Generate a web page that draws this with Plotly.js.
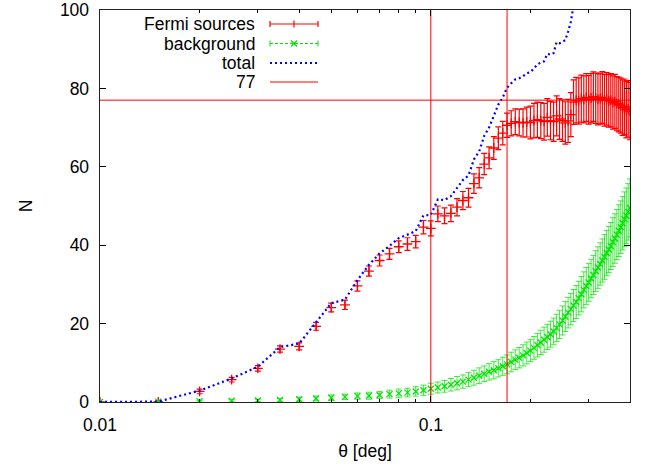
<!DOCTYPE html>
<html>
<head>
<meta charset="utf-8">
<script src="https://cdn.plot.ly/plotly-3.0.1.min.js"></script>
<style>
  html, body { margin: 0; padding: 0; background: #ffffff; }
  #plot { width: 653px; height: 466px; }
</style>
</head>
<body>
<div id="plot"></div>
<script>
// Angular distance from the source position, in degrees
const theta = [
  0.01, 0.015, 0.02, 0.025, 0.03, 0.035, 0.04, 0.045, 0.05, 0.055,
  0.06, 0.065, 0.07, 0.075, 0.08, 0.085, 0.09, 0.095, 0.1, 0.105,
  0.11, 0.115, 0.12, 0.125, 0.13, 0.135, 0.14, 0.145, 0.15, 0.155,
  0.16, 0.165, 0.17, 0.175, 0.18, 0.185, 0.19, 0.195, 0.2, 0.205,
  0.21, 0.215, 0.22, 0.225, 0.23, 0.235, 0.24, 0.245, 0.25, 0.255,
  0.26, 0.265, 0.27, 0.275, 0.28, 0.285, 0.29, 0.295, 0.3, 0.305,
  0.31, 0.315, 0.32, 0.325, 0.33, 0.335, 0.34, 0.345, 0.35, 0.355,
  0.36, 0.365, 0.37, 0.375, 0.38, 0.385, 0.39, 0.395, 0.4
];

// Cumulative counts of Fermi sources and their uncertainties
const fermiN = [
  0, 0, 2.7, 5.7, 8.6, 13.5, 14.2, 19.3, 24.1, 24.8,
  29.6, 33.4, 36.1, 37.8, 39.6, 40.3, 40.9, 44.6, 44.3, 48.0,
  47.5, 48.1, 49.7, 51.4, 52.1, 55.7, 57.2, 60.7, 62.3, 64.8,
  67.3, 68.6, 70.6, 71.1, 71.5, 71.3, 71.2, 71.4, 71.3, 71.8,
  72.0, 71.8, 71.5, 72.6, 71.8, 71.5, 73.0, 72.2, 71.8, 71.2,
  71.7, 73.3, 76.5, 77.0, 76.8, 77.4, 77.2, 77.7, 77.1, 77.5,
  77.9, 77.5, 77.2, 77.4, 77.7, 77.0, 77.3, 76.8, 77.0, 76.4,
  76.7, 76.1, 75.9, 75.6, 75.1, 75.3, 74.6, 74.8, 74.2
];
const fermiErr = [
  0, 0.3, 0.6, 0.6, 0.7, 0.8, 0.9, 1.0, 1.1, 1.2,
  1.3, 1.3, 1.4, 1.4, 1.5, 1.6, 1.6, 1.7, 1.9, 2.0,
  2.0, 2.1, 2.2, 2.3, 2.4, 2.5, 2.6, 2.7, 2.8, 2.9,
  2.9, 3.0, 3.1, 3.2, 3.3, 3.4, 3.6, 3.8, 4.2, 4.4,
  4.5, 4.6, 4.7, 4.8, 4.9, 5.0, 5.1, 5.2, 5.3, 5.4,
  5.5, 5.6, 5.7, 5.8, 5.9, 6.0, 6.0, 6.1, 6.2, 6.3,
  6.3, 6.4, 6.5, 6.5, 6.6, 6.6, 6.7, 6.7, 6.8, 6.8,
  6.9, 6.9, 7.0, 7.0, 7.1, 7.1, 7.2, 7.2, 7.3
];

// Expected background counts and their uncertainties
const backgroundN = [
  0, 0.1, 0.2, 0.3, 0.4, 0.5, 0.7, 0.9, 1.1, 1.3,
  1.5, 1.6, 1.8, 2.0, 2.2, 2.4, 2.7, 3.0, 3.4, 3.7,
  4.0, 4.4, 4.8, 5.2, 5.7, 6.2, 6.7, 7.2, 7.7, 8.1,
  8.6, 9.1, 9.6, 10.2, 10.8, 11.3, 11.9, 12.5, 13.1, 13.8,
  14.5, 15.2, 15.9, 16.6, 17.3, 18.0, 18.9, 19.8, 20.8, 21.8,
  22.8, 23.7, 24.6, 25.5, 26.5, 27.5, 28.6, 29.6, 30.5, 31.5,
  32.4, 33.4, 34.3, 35.2, 36.1, 37.0, 38.0, 38.9, 39.8, 40.8,
  41.7, 42.7, 43.7, 44.6, 45.6, 46.6, 47.5, 48.5, 49.5
];
const backgroundErr = [
  0, 0.1, 0.2, 0.3, 0.3, 0.4, 0.5, 0.6, 0.7, 0.7,
  0.8, 0.9, 0.9, 1.0, 1.1, 1.1, 1.2, 1.3, 1.4, 1.4,
  1.5, 1.6, 1.7, 1.7, 1.8, 1.9, 2.0, 2.0, 2.1, 2.2,
  2.2, 2.3, 2.4, 2.5, 2.5, 2.6, 2.7, 2.8, 2.8, 2.9,
  3.0, 3.1, 3.2, 3.2, 3.3, 3.4, 3.5, 3.6, 3.7, 3.8,
  3.9, 4.0, 4.1, 4.2, 4.3, 4.5, 4.6, 4.7, 4.8, 4.9,
  5.0, 5.2, 5.3, 5.4, 5.5, 5.7, 5.8, 5.9, 6.0, 6.2,
  6.3, 6.4, 6.6, 6.7, 6.8, 7.0, 7.1, 7.2, 7.4
];

// Total counts (sources plus background)
const totalN = [
  0, 0.1, 2.9, 6.0, 9.0, 14.0, 14.9, 20.2, 25.2, 26.1,
  31.1, 35.0, 37.9, 39.8, 41.8, 42.7, 43.6, 47.6, 47.7, 51.7,
  51.5, 52.5, 54.5, 56.6, 57.8, 61.9, 63.9, 67.9, 70.0, 72.9,
  75.9, 77.7, 80.2, 81.3, 82.3, 82.6, 83.1, 83.9, 84.1, 85.1,
  86.1, 86.6, 86.9, 88.8, 88.6, 89.0, 91.8, 91.5, 92.0, 92.3,
  94.5, 97.0, 101.1, 102.5, 103.3, 104.9, 105.8, 107.3, 107.6, 109.0,
  110.3, 110.9, 111.5, 112.6, 113.8, 114.0, 115.3, 115.7, 116.8, 117.2,
  118.4, 118.8, 119.6, 120.2, 120.7, 121.9, 122.1, 123.3, 123.7
];

// Reference level and the two angular cuts
const plateauN = 77;
const thetaCuts = [0.1, 0.17];
const thetaRange = [0.01, 0.4];
const nRange = [0, 100];

// Axis ticks
const xTickVals = [0.01, 0.1];
const xTickText = ['0.01', '0.1'];
const xMinorVals = [0.02, 0.03, 0.04, 0.05, 0.06, 0.07, 0.08, 0.09, 0.2, 0.3, 0.4];
const yTickVals = [0, 20, 40, 60, 80, 100];

// Legend labels
const legendLabels = ['Fermi sources', 'background', 'total', '77'];

const RED = '#ff0000';
const GREEN = '#00e600';
const BLUE = '#0000ff';
const FONT = 'Liberation Sans, Arial, Helvetica, sans-serif';
const FS = 17.5;

const traces = [
  {
    x: theta, y: fermiN, type: 'scatter', mode: 'markers',
    marker: { symbol: 'cross-thin', size: 7, color: RED, line: { color: RED, width: 1.3 } },
    error_y: { type: 'data', array: fermiErr, visible: true, color: RED, thickness: 1.2, width: 3 },
    showlegend: false
  },
  {
    x: theta, y: backgroundN, type: 'scatter', mode: 'markers',
    marker: { symbol: 'x-thin', size: 6, color: GREEN, line: { color: GREEN, width: 1.3 } },
    error_y: { type: 'data', array: backgroundErr, visible: true, color: 'rgba(0,230,0,0.75)', thickness: 1, width: 3 },
    showlegend: false
  },
  {
    x: theta, y: totalN, type: 'scatter', mode: 'lines',
    line: { color: BLUE, width: 2.2, dash: '2px,3px' },
    showlegend: false
  },
  {
    x: thetaRange, y: [plateauN, plateauN], type: 'scatter', mode: 'lines',
    line: { color: RED, width: 1 }, showlegend: false, hoverinfo: 'skip'
  }
];
thetaCuts.forEach(function (t) {
  traces.push({
    x: [t, t], y: nRange, type: 'scatter', mode: 'lines',
    line: { color: RED, width: 1 }, showlegend: false, hoverinfo: 'skip'
  });
});

// Plot-area geometry used to place the key
const M = { l: 100, r: 23, t: 10, b: 64 };
const W = 653, H = 466;
const pw = W - M.l - M.r, ph = H - M.t - M.b;
function px(xp) { return (xp - M.l) / pw; }
function py(yp) { return (H - M.b - yp) / ph; }

const keyRows = [24, 43.5, 63, 82];
const keyTextRight = 257;
const sx0 = 270, sx1 = 318, sxc = (sx0 + sx1) / 2;

const annotations = legendLabels.map(function (lab, i) {
  return {
    text: lab, xref: 'paper', yref: 'paper',
    x: px(keyTextRight), y: py(keyRows[i]),
    xanchor: 'right', yanchor: 'middle', showarrow: false,
    font: { family: FONT, size: FS, color: '#000000' }
  };
});

function seg(x0, y0, x1, y1, color, width, dash) {
  return {
    type: 'line', xref: 'paper', yref: 'paper',
    x0: px(x0), y0: py(y0), x1: px(x1), y1: py(y1),
    line: { color: color, width: width, dash: dash || 'solid' }
  };
}

const shapes = [
  // Fermi sources sample: bar with end caps and a cross
  seg(sx0, keyRows[0], sx1, keyRows[0], RED, 1.2),
  seg(sx0, keyRows[0] - 3, sx0, keyRows[0] + 3, RED, 1.2),
  seg(sx1, keyRows[0] - 3, sx1, keyRows[0] + 3, RED, 1.2),
  seg(sxc, keyRows[0] - 3.5, sxc, keyRows[0] + 3.5, RED, 1.2),
  // background sample: dashed bar with caps and an x
  seg(sx0, keyRows[1], sx1, keyRows[1], GREEN, 1, '3px,2px'),
  seg(sx0, keyRows[1] - 3, sx0, keyRows[1] + 3, GREEN, 1),
  seg(sx1, keyRows[1] - 3, sx1, keyRows[1] + 3, GREEN, 1),
  seg(sxc - 3, keyRows[1] - 3, sxc + 3, keyRows[1] + 3, GREEN, 1.2),
  seg(sxc - 3, keyRows[1] + 3, sxc + 3, keyRows[1] - 3, GREEN, 1.2),
  // total sample
  seg(sx0, keyRows[2], sx1, keyRows[2], BLUE, 2.2, '2px,3px'),
  // 77 sample
  seg(sx0, keyRows[3], sx1, keyRows[3], RED, 1)
];

const axisCommon = {
  showgrid: false, zeroline: false,
  showline: true, linecolor: '#222222', linewidth: 1.4, mirror: 'ticks',
  ticks: 'inside', ticklen: 6, tickwidth: 1, tickcolor: '#000000',
  tickfont: { family: FONT, size: FS, color: '#000000' }
};

const layout = {
  width: W, height: H,
  margin: M,
  paper_bgcolor: '#ffffff', plot_bgcolor: '#ffffff',
  showlegend: false,
  font: { family: FONT, size: FS, color: '#000000' },
  xaxis: Object.assign({}, axisCommon, {
    type: 'log',
    range: [Math.log10(thetaRange[0]), Math.log10(thetaRange[1])],
    tickmode: 'array', tickvals: xTickVals, ticktext: xTickText,
    ticklabelstandoff: 7,
    minor: { tickmode: 'array', tickvals: xMinorVals, ticks: 'inside', ticklen: 3, tickcolor: '#000000', showgrid: false },
    title: { text: 'θ [deg]', font: { family: FONT, size: FS, color: '#000000' }, standoff: 10 }
  }),
  yaxis: Object.assign({}, axisCommon, {
    range: nRange,
    tickmode: 'array', tickvals: yTickVals,
    ticklabelstandoff: 6,
    title: { text: 'N', font: { family: FONT, size: FS, color: '#000000' }, standoff: 22 }
  }),
  annotations: annotations,
  shapes: shapes
};

Plotly.newPlot('plot', traces, layout, { staticPlot: true, displayModeBar: false });
</script>
</body>
</html>
